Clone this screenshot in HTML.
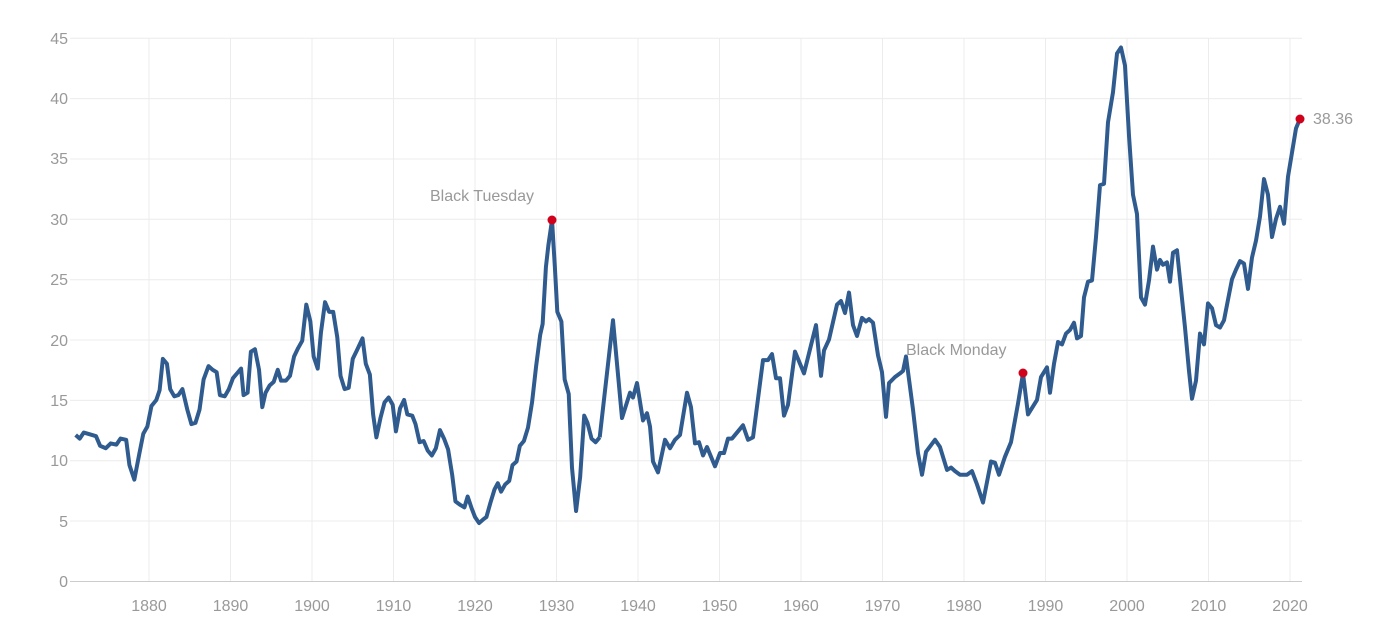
<!DOCTYPE html>
<html><head><meta charset="utf-8"><style>
html,body{margin:0;padding:0;background:#fff;}
svg{display:block;font-family:"Liberation Sans",sans-serif;}
</style></head><body>
<svg width="1377" height="638" viewBox="0 0 1377 638">
<g stroke="#ececec" stroke-width="1">
<line x1="70" x2="1302" y1="581.5" y2="581.5" stroke="#ccc"/>
<line x1="70" x2="1302" y1="521" y2="521"/>
<line x1="70" x2="1302" y1="460.7" y2="460.7"/>
<line x1="70" x2="1302" y1="400.4" y2="400.4"/>
<line x1="70" x2="1302" y1="340" y2="340"/>
<line x1="70" x2="1302" y1="279.7" y2="279.7"/>
<line x1="70" x2="1302" y1="219.3" y2="219.3"/>
<line x1="70" x2="1302" y1="159" y2="159"/>
<line x1="70" x2="1302" y1="98.6" y2="98.6"/>
<line x1="70" x2="1302" y1="38.3" y2="38.3"/>
<line x1="149" x2="149" y1="38" y2="581"/>
<line x1="230.5" x2="230.5" y1="38" y2="581"/>
<line x1="312" x2="312" y1="38" y2="581"/>
<line x1="393.5" x2="393.5" y1="38" y2="581"/>
<line x1="475" x2="475" y1="38" y2="581"/>
<line x1="556.5" x2="556.5" y1="38" y2="581"/>
<line x1="638" x2="638" y1="38" y2="581"/>
<line x1="719.5" x2="719.5" y1="38" y2="581"/>
<line x1="801" x2="801" y1="38" y2="581"/>
<line x1="882.5" x2="882.5" y1="38" y2="581"/>
<line x1="964" x2="964" y1="38" y2="581"/>
<line x1="1045.5" x2="1045.5" y1="38" y2="581"/>
<line x1="1127" x2="1127" y1="38" y2="581"/>
<line x1="1208.5" x2="1208.5" y1="38" y2="581"/>
<line x1="1290" x2="1290" y1="38" y2="581"/>
</g>
<g fill="#999" font-size="16" text-anchor="end">
<text x="68" y="587">0</text><text x="68" y="527">5</text><text x="68" y="466">10</text>
<text x="68" y="406">15</text><text x="68" y="346">20</text><text x="68" y="285">25</text>
<text x="68" y="225">30</text><text x="68" y="164">35</text><text x="68" y="104">40</text>
<text x="68" y="44">45</text>
</g>
<g fill="#999" font-size="16" text-anchor="middle">
<text x="149" y="611">1880</text><text x="230.5" y="611">1890</text><text x="312" y="611">1900</text>
<text x="393.5" y="611">1910</text><text x="475" y="611">1920</text><text x="556.5" y="611">1930</text>
<text x="638" y="611">1940</text><text x="719.5" y="611">1950</text><text x="801" y="611">1960</text>
<text x="882.5" y="611">1970</text><text x="964" y="611">1980</text><text x="1045.5" y="611">1990</text>
<text x="1127" y="611">2000</text><text x="1208.5" y="611">2010</text><text x="1290" y="611">2020</text>
</g>
<g transform="translate(149,581) scale(8.15,-12.07)">
<polyline fill="none" stroke="#2f5b8f" stroke-width="4" stroke-linejoin="round" vector-effect="non-scaling-stroke" points="
-9,12.1 -8.5,11.8 -8,12.3 -7,12.1 -6.5,12.0 -6,11.2 -5.3,11.0 -4.7,11.4 -4,11.3 -3.5,11.8 -2.8,11.7 -2.4,9.6 -1.8,8.4 -1.2,10.5 -0.7,12.2 -0.2,12.8 0.3,14.5 0.9,15.0 1.3,15.8 1.7,18.4 2.2,18.0 2.6,15.9 3.1,15.3 3.6,15.4 4.1,15.9 4.7,14.2 5.2,13.0 5.7,13.1 6.2,14.2 6.7,16.7 7.3,17.8 7.8,17.5 8.3,17.3 8.7,15.4 9.3,15.3 9.8,15.9 10.3,16.8 10.8,17.2 11.3,17.6 11.6,15.4 12.1,15.6 12.5,19.0 13,19.2 13.5,17.5 13.9,14.4 14.3,15.6 14.8,16.2 15.3,16.5 15.8,17.5 16.2,16.6 16.8,16.6 17.3,17.0 17.8,18.6 18.3,19.3 18.8,19.9 19.3,22.9 19.8,21.5 20.2,18.6 20.7,17.6 21.1,20.6 21.6,23.1 22.1,22.3 22.6,22.3 23.1,20.2 23.5,17.0 24,15.9 24.5,16.0 25,18.4 25.5,19.1 26.2,20.1 26.6,18.0 27.1,17.1 27.5,13.8 27.9,11.9 28.4,13.5 28.9,14.8 29.4,15.2 29.9,14.6 30.3,12.4 30.8,14.3 31.3,15.0 31.7,13.8 32.3,13.7 32.7,13.0 33.2,11.5 33.7,11.6 34.2,10.8 34.7,10.4 35.2,11.0 35.7,12.5 36.2,11.8 36.7,10.9 37.2,8.8 37.6,6.6 38.2,6.3 38.7,6.1 39.1,7.0 39.6,6.0 40,5.3 40.5,4.8 41,5.1 41.4,5.3 41.9,6.5 42.4,7.6 42.8,8.1 43.2,7.4 43.7,8.0 44.2,8.3 44.6,9.6 45.1,9.9 45.5,11.2 46,11.6 46.5,12.7 47,14.8 47.5,17.8 48,20.4 48.3,21.3 48.7,26.0 49,27.8 49.45,29.9 49.8,26.0 50.1,22.3 50.6,21.5 51,16.7 51.5,15.5 51.9,9.4 52.4,5.8 52.9,8.6 53.4,13.7 53.8,13.1 54.3,11.8 54.8,11.5 55.3,11.9"/>
</g>
<g transform="translate(0,581) scale(1,-12.07)">
<polyline fill="none" stroke="#2f5b8f" stroke-width="4" stroke-linejoin="round" vector-effect="non-scaling-stroke" points="
599.7,11.9 613,21.6 622,13.5 630,15.6 633,15.2 637,16.4 643,13.3 647,13.9 650,12.8 653,9.9 658,9.0 665,11.7 670,11.0 675,11.7 680,12.1 687,15.6 691,14.4 695,11.4 699,11.5 703,10.4 707,11.1 715,9.5 720,10.6 724,10.6 728,11.8 732,11.8 737,12.3 743,12.9 748,11.7 753,11.9 763,18.3 768,18.3 772,18.8 776,16.8 780,16.8 784,13.7 788,14.6 795,19.0 804,17.2 816,21.2 821,17.0 824,19.1 829,20.0 837,22.9 841,23.2 845,22.2 849,23.9 853,21.2 857,20.3 862,21.8 866,21.5 869,21.7 873,21.4 878,18.7 882,17.3 886,13.6 889,16.4 895,16.9 900,17.2 903,17.4 906,18.6 913,14.2 918,10.6 922,8.8 926,10.7 935,11.7 940,11.1 947,9.2 951,9.4 955,9.1 960,8.8 967,8.8 972,9.1 977,8.0 983,6.5 991,9.9 995,9.8 999,8.8 1005,10.3 1011,11.5 1018,14.7 1023,17.2 1028,13.8 1037,15.0 1041,16.9 1047,17.7 1050,15.6 1054,18.0 1058,19.8 1062,19.6 1066,20.5 1070,20.8 1074,21.4 1077,20.1 1081,20.3 1084,23.5 1088,24.8 1092,24.9 1096,28.5 1100,32.8 1104,32.9 1108,38.0 1113,40.5 1117,43.7 1121,44.2 1125,42.7 1129,36.9 1133,32.0 1137,30.4 1141,23.5 1145,22.9 1149,24.9 1153,27.7 1157,25.8 1160,26.6 1163,26.2 1167,26.4 1170,24.8 1173,27.2 1177,27.4 1181,24.2 1185,21.0 1189,17.4 1192,15.1 1196,16.6 1200,20.5 1204,19.6 1208,23.0 1212,22.6 1216,21.2 1220,21.0 1224,21.6 1228,23.3 1232,25.0 1236,25.8 1240,26.5 1244,26.3 1248,24.2 1252,26.8 1256,28.2 1260,30.2 1264,33.3 1268,32.0 1272,28.5 1276,30.0 1280,31.0 1284,29.6 1288,33.5 1292,35.5 1296,37.5 1300,38.3"/>
</g>
<circle cx="552" cy="220" r="4.5" fill="#d0021b"/>
<circle cx="1023" cy="373" r="4.5" fill="#d0021b"/>
<circle cx="1300" cy="119" r="4.5" fill="#d0021b"/>
<g fill="#999" font-size="16">
<text x="430" y="201">Black Tuesday</text>
<text x="906" y="355">Black Monday</text>
<text x="1313" y="124">38.36</text>
</g>
</svg>
</body></html>
